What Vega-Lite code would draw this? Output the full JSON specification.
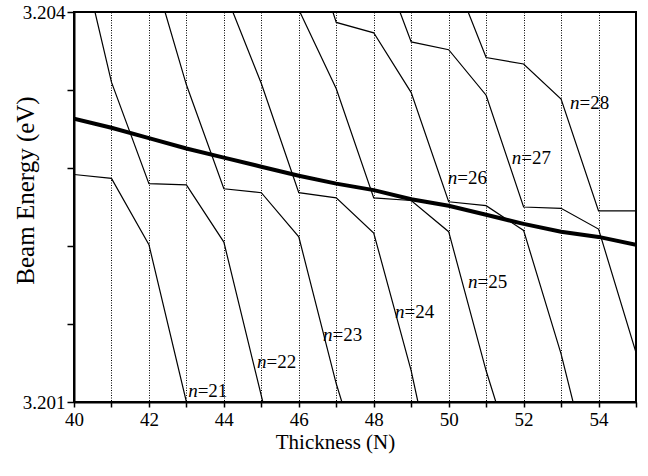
{
  "$schema": "https://vega.github.io/schema/vega-lite/v6.json",
  "width": 562,
  "height": 390,
  "autosize": {"type": "none"},
  "padding": {"left": 74, "top": 12, "right": 12, "bottom": 74},
  "background": "white",
  "config": {
    "view": {"stroke": "black", "strokeWidth": 2},
    "font": "Times New Roman, Liberation Serif, Times, serif",
    "axis": {
      "domainColor": "black",
      "domainWidth": 2,
      "tickColor": "black",
      "tickWidth": 1.5,
      "labelColor": "black",
      "titleColor": "black",
      "labelFont": "Times New Roman, Liberation Serif, Times, serif",
      "titleFont": "Times New Roman, Liberation Serif, Times, serif",
      "labelFontSize": 19,
      "titleFontWeight": "normal",
      "labelFlush": false,
      "labelOverlap": false,
      "labelBound": false
    }
  },
  "datasets": {
    "modes": [
      {"n": 21, "N": 40, "E": 3.20275}, {"n": 21, "N": 41, "E": 3.20272}, {"n": 21, "N": 42, "E": 3.20221}, {"n": 21, "N": 43, "E": 3.2010},
      {"n": 22, "N": 40.56, "E": 3.2040}, {"n": 22, "N": 41, "E": 3.20346}, {"n": 22, "N": 42, "E": 3.20268}, {"n": 22, "N": 43, "E": 3.20267}, {"n": 22, "N": 44, "E": 3.20223}, {"n": 22, "N": 45.04, "E": 3.2010},
      {"n": 23, "N": 42.43, "E": 3.2040}, {"n": 23, "N": 43, "E": 3.20344}, {"n": 23, "N": 44, "E": 3.20264}, {"n": 23, "N": 45, "E": 3.20261}, {"n": 23, "N": 46, "E": 3.20227}, {"n": 23, "N": 47, "E": 3.20114}, {"n": 23, "N": 47.15, "E": 3.2010},
      {"n": 24, "N": 44.24, "E": 3.2040}, {"n": 24, "N": 45, "E": 3.20345}, {"n": 24, "N": 46, "E": 3.20261}, {"n": 24, "N": 47, "E": 3.20257}, {"n": 24, "N": 48, "E": 3.20230}, {"n": 24, "N": 49, "E": 3.20124}, {"n": 24, "N": 49.18, "E": 3.2010},
      {"n": 25, "N": 46.03, "E": 3.2040}, {"n": 25, "N": 47, "E": 3.20341}, {"n": 25, "N": 48, "E": 3.20257}, {"n": 25, "N": 49, "E": 3.20255}, {"n": 25, "N": 50, "E": 3.20231}, {"n": 25, "N": 51, "E": 3.20124}, {"n": 25, "N": 51.26, "E": 3.2010},
      {"n": 26, "N": 46.91, "E": 3.2040}, {"n": 26, "N": 47, "E": 3.20392}, {"n": 26, "N": 48, "E": 3.20384}, {"n": 26, "N": 49, "E": 3.20338}, {"n": 26, "N": 50, "E": 3.20254}, {"n": 26, "N": 51, "E": 3.20251}, {"n": 26, "N": 52, "E": 3.20232}, {"n": 26, "N": 53, "E": 3.20137}, {"n": 26, "N": 53.32, "E": 3.2010},
      {"n": 27, "N": 48.70, "E": 3.2040}, {"n": 27, "N": 49, "E": 3.20377}, {"n": 27, "N": 50, "E": 3.20371}, {"n": 27, "N": 51, "E": 3.20336}, {"n": 27, "N": 52, "E": 3.20250}, {"n": 27, "N": 53, "E": 3.20249}, {"n": 27, "N": 54, "E": 3.20233}, {"n": 27, "N": 55, "E": 3.20138},
      {"n": 28, "N": 50.52, "E": 3.2040}, {"n": 28, "N": 51, "E": 3.20365}, {"n": 28, "N": 52, "E": 3.20360}, {"n": 28, "N": 53, "E": 3.20333}, {"n": 28, "N": 54, "E": 3.20247}, {"n": 28, "N": 55, "E": 3.20247}
    ],
    "beam": [
      {"N": 40, "E": 3.20318}, {"N": 41, "E": 3.20311}, {"N": 42, "E": 3.20303}, {"N": 43, "E": 3.20295},
      {"N": 44, "E": 3.20288}, {"N": 45, "E": 3.20281}, {"N": 46, "E": 3.20274}, {"N": 47, "E": 3.20268},
      {"N": 48, "E": 3.20263}, {"N": 49, "E": 3.20256}, {"N": 50, "E": 3.20251}, {"N": 51, "E": 3.20244},
      {"N": 52, "E": 3.20237}, {"N": 53, "E": 3.20231}, {"N": 54, "E": 3.20227}, {"N": 55, "E": 3.20221}
    ],
    "labels": [
      {"label": "=21", "N": 43.30, "E": 3.201082},
      {"label": "=22", "N": 45.14, "E": 3.201305},
      {"label": "=23", "N": 46.90, "E": 3.201513},
      {"label": "=24", "N": 48.82, "E": 3.201690},
      {"label": "=25", "N": 50.77, "E": 3.201921},
      {"label": "=26", "N": 50.23, "E": 3.202721},
      {"label": "=27", "N": 51.94, "E": 3.202875},
      {"label": "=28", "N": 53.49, "E": 3.203298}
    ]
  },
  "encoding": {
    "x": {
      "field": "N",
      "type": "quantitative",
      "scale": {"domain": [40, 55], "nice": false, "zero": false},
      "axis": {
        "title": "Thickness (N)",
        "values": [40, 41, 42, 43, 44, 45, 46, 47, 48, 49, 50, 51, 52, 53, 54, 55],
        "labelExpr": "datum.value % 2 === 0 ? datum.label : ''",
        "grid": true,
        "gridColor": "black",
        "gridDash": [1, 1.5],
        "gridWidth": 1,
        "gridOpacity": 1,
        "tickSize": 5,
        "labelPadding": 3,
        "titleFontSize": 21,
        "titleX": 261,
        "titleY": 46.6,
        "titleBaseline": "alphabetic"
      }
    },
    "y": {
      "field": "E",
      "type": "quantitative",
      "scale": {"domain": [3.201, 3.204], "nice": false, "zero": false},
      "axis": {
        "title": "Beam Energy (eV)",
        "values": [3.201, 3.2016, 3.2022, 3.2028, 3.2034, 3.204],
        "labelExpr": "abs(datum.value - 3.201) < 1e-7 || abs(datum.value - 3.204) < 1e-7 ? format(datum.value, '.3f') : ''",
        "grid": false,
        "tickSize": 7,
        "labelPadding": 2,
        "titleFontSize": 25,
        "titleX": -41,
        "titleY": 178,
        "titleBaseline": "alphabetic"
      }
    }
  },
  "layer": [
    {
      "data": {"name": "modes"},
      "mark": {"type": "line", "color": "black", "strokeWidth": 1.2, "clip": true},
      "encoding": {"detail": {"field": "n", "type": "nominal"}}
    },
    {
      "data": {"name": "beam"},
      "mark": {"type": "line", "color": "black", "strokeWidth": 4, "clip": true},
      "encoding": {}
    },
    {
      "data": {"name": "labels"},
      "mark": {"type": "text", "font": "Times New Roman, Liberation Serif, Times, serif", "fontSize": 19, "fontStyle": "italic", "align": "right", "baseline": "middle", "color": "black"},
      "encoding": {"text": {"value": "n"}}
    },
    {
      "data": {"name": "labels"},
      "mark": {"type": "text", "font": "Times New Roman, Liberation Serif, Times, serif", "fontSize": 19, "align": "left", "baseline": "middle", "color": "black"},
      "encoding": {"text": {"field": "label", "type": "nominal"}}
    }
  ]
}
